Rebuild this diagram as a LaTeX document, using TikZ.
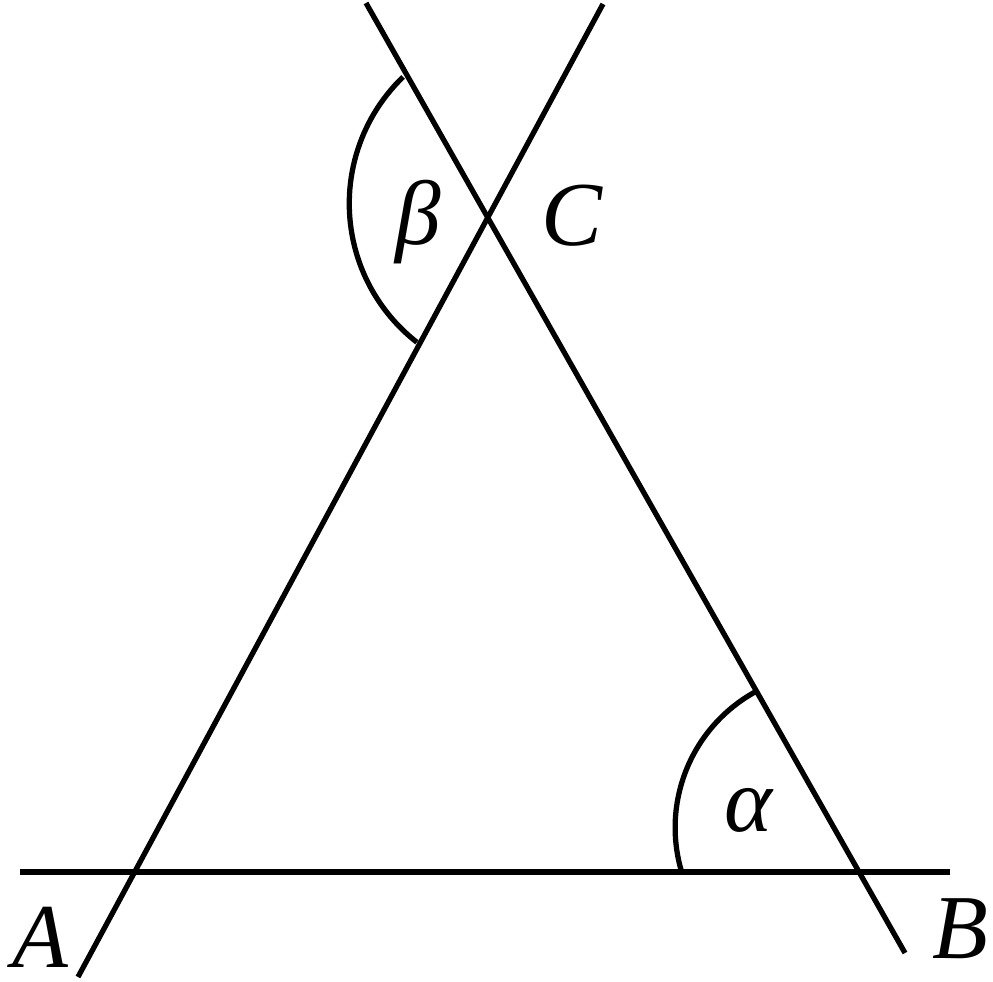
\documentclass[tikz,border=0pt]{standalone}
\usepackage{fontspec}
\setmainfont{Liberation Serif}
\usepackage{tikz}
\usetikzlibrary{calc}

\begin{document}
\begin{tikzpicture}[line/.style={line width=1.5pt}, lbl/.style={font=\fontsize{26}{30}\selectfont\itshape, inner sep=0}]
\useasboundingbox (0,0) rectangle (9.93,9.82);
%line ends
\coordinate (h1) at (0.20,1.10);
\coordinate (h2) at (9.50,1.10);
\coordinate (a1) at (0.78,0.05);
\coordinate (a2) at (6.03,9.78);
\coordinate (b1) at (3.66,9.79);
\coordinate (b2) at (9.05,0.29);
\coordinate (bs) at (4.03,9.05);
\coordinate (as) at (7.55,2.90);
\draw [line] (h1) -- (h2);
\draw [line] (a1) -- (a2);
\draw [line] (b1) -- (b2);
\draw [line] (bs) arc[start angle=134, end angle=232, radius=1.76];
\draw [line] (as) arc[start angle=119, end angle=196, radius=1.55];
\node[lbl] (A) at (0.40,0.45) {A};
\node[lbl] (B) at (9.60,0.53) {B};
\node[lbl] (C) at (5.72,7.66) {C};
\node[lbl] (beta) at (4.18,7.60) {β};
\node[lbl] (alpha) at (7.48,1.72) {α};
\end{tikzpicture}
\end{document}
